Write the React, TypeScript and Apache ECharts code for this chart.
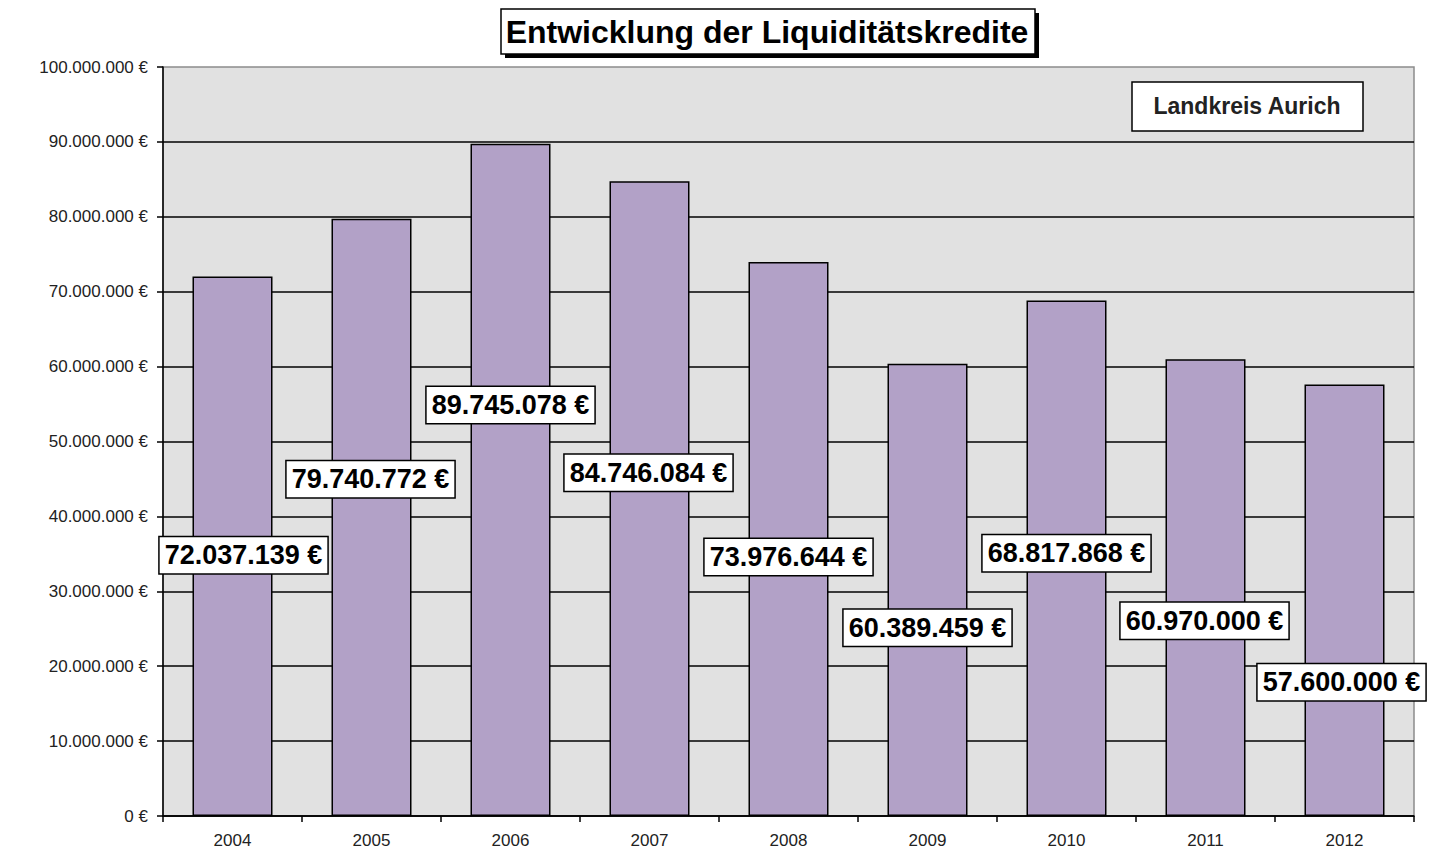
import React, { useEffect, useRef } from "react";
import * as echarts from "echarts";

const years = ["2004", "2005", "2006", "2007", "2008", "2009", "2010", "2011", "2012"];
const credits = [72037139, 79740772, 89745078, 84746084, 73976644, 60389459, 68817868, 60970000, 57600000];
const chartTitle = "Entwicklung der Liquiditätskredite";
const boxText = "Landkreis Aurich";

// label placement (layout only): pixel offsets from bar centre
const labelOffsets: [number, number][] = [
  [11, 9], [-1, -38], [0, -75], [-1, -26], [0, 18], [0, 38], [0, -5], [-1, 33], [-3, 82],
];

const FONT = "'Liberation Sans', Arial, Helvetica, sans-serif";

function fmt(v: number): string {
  return String(Math.round(v)).replace(/\B(?=(\d{3})+(?!\d))/g, ".") + " €";
}

export default function App() {
  const ref = useRef<HTMLDivElement>(null);
  useEffect(() => {
    if (!ref.current) return;
    const chart = echarts.init(ref.current, null, { renderer: "svg" });
    chart.setOption({
      animation: false,
      backgroundColor: "#ffffff",
      textStyle: { fontFamily: FONT },
      grid: {
        left: 163,
        top: 67,
        width: 1251,
        height: 749,
        show: true,
        backgroundColor: "#e1e1e1",
        borderColor: "#8c8c8c",
        borderWidth: 1.5,
      },
      xAxis: {
        type: "category",
        data: years,
        axisLine: { show: true, lineStyle: { color: "#000", width: 1.5 } },
        axisTick: { show: true, length: 6, lineStyle: { color: "#000", width: 1.5 } },
        axisLabel: { color: "#222", fontSize: 17, fontFamily: FONT, margin: 16 },
      },
      yAxis: {
        type: "value",
        min: 0,
        max: 100000000,
        interval: 10000000,
        axisLine: { show: true, lineStyle: { color: "#000", width: 1.5 } },
        axisTick: { show: true, length: 6, lineStyle: { color: "#000", width: 1.5 } },
        axisLabel: {
          color: "#222",
          fontSize: 17,
          fontFamily: FONT,
          margin: 15,
          formatter: (v: number) => fmt(v),
        },
        splitLine: { show: true, showMaxLine: false, lineStyle: { color: "#000", width: 1.5 } },
      },
      series: [
        {
          type: "bar",
          barWidth: 80,
          data: credits.map((v, i) => ({
            value: v,
            label: { offset: labelOffsets[i] },
          })),
          itemStyle: { color: "#b2a1c7", borderColor: "#000", borderWidth: 1.5 },
          label: {
            show: true,
            position: "inside",
            formatter: (p: any) => fmt(p.value),
            color: "#000",
            fontSize: 27,
            fontWeight: "bold",
            fontFamily: FONT,
            backgroundColor: "#fff",
            borderColor: "#000",
            borderWidth: 1.5,
            padding: [5, 5, 4, 5],
          },
        },
      ],
      graphic: [
        { type: "rect", shape: { x: 505, y: 13, width: 534, height: 45 }, style: { fill: "#000" }, z: 10 },
        {
          type: "rect",
          shape: { x: 501, y: 9, width: 534, height: 45 },
          style: { fill: "#fff", stroke: "#000", lineWidth: 1.5 },
          z: 11,
        },
        {
          type: "text",
          x: 767,
          y: 32,
          style: {
            text: chartTitle,
            fill: "#000",
            font: `bold 32px ${FONT}`,
            align: "center",
            verticalAlign: "middle",
          },
          z: 12,
        },
        {
          type: "rect",
          shape: { x: 1132, y: 82, width: 231, height: 49 },
          style: { fill: "#fff", stroke: "#000", lineWidth: 1.5 },
          z: 11,
        },
        {
          type: "text",
          x: 1247,
          y: 106,
          style: {
            text: boxText,
            fill: "#222",
            font: `bold 23px ${FONT}`,
            align: "center",
            verticalAlign: "middle",
          },
          z: 12,
        },
      ],
    });
    return () => chart.dispose();
  }, []);
  return (
    <div
      ref={ref}
      style={{ position: "fixed", left: 0, top: 0, width: 1430, height: 852 }}
    />
  );
}
